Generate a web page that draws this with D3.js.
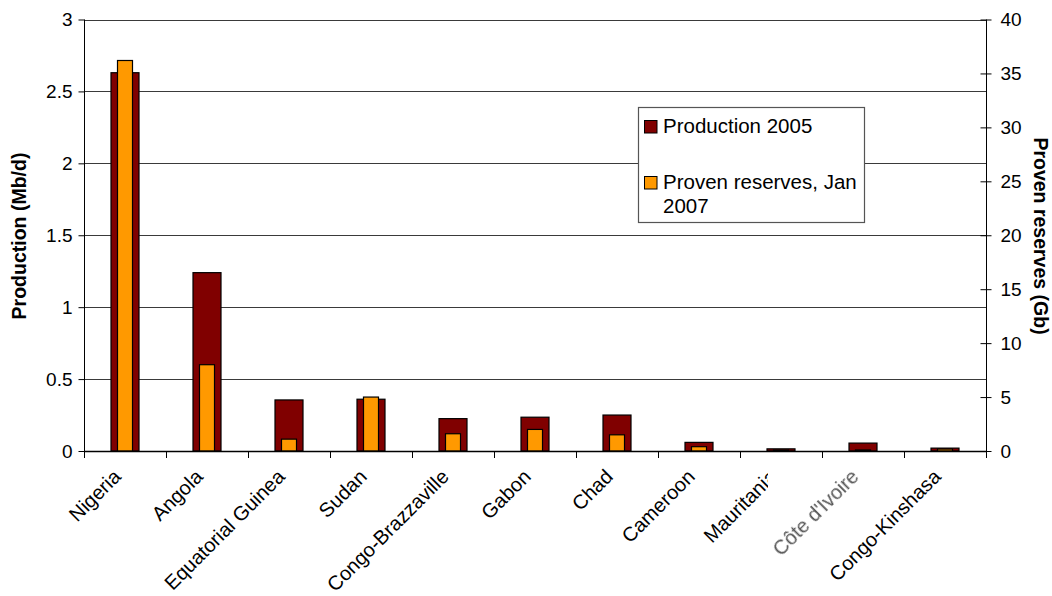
<!DOCTYPE html>
<html>
<head>
<meta charset="utf-8">
<script src="https://cdn.jsdelivr.net/npm/d3@7"></script>
<style>
  html, body { margin: 0; padding: 0; background: #fff; }
  svg { display: block; font-family: Arial, "Liberation Sans", sans-serif; }
</style>
</head>
<body>
<svg id="chart" width="1052" height="596"></svg>
<script>
// Oil producers of Africa: 2005 production and proven reserves (Jan 2007)
const countries = ["Nigeria", "Angola", "Equatorial Guinea", "Sudan", "Congo-Brazzaville",
  "Gabon", "Chad", "Cameroon", "Mauritania", "Côte d'Ivoire", "Congo-Kinshasa"];
const production2005 = [2.63, 1.24, 0.355, 0.36, 0.225, 0.235, 0.25, 0.06, 0.015, 0.055, 0.02]; // Mb/d
const reservesJan2007 = [36.2, 8.0, 1.1, 5.0, 1.6, 2.0, 1.5, 0.4, 0.1, 0.1, 0.18];              // Gb
const leftTicks = [0, 0.5, 1, 1.5, 2, 2.5, 3];
const rightTicks = [0, 5, 10, 15, 20, 25, 30, 35, 40];
const legendLabels = ["Production 2005", ["Proven reserves, Jan", "2007"]];

const colProd = "#800000", colRes = "#ff9900";
const svg = d3.select("#chart");
const L = 84, R = 986, T = 19.5, B = 451;

const x = d3.scaleBand().domain(countries).range([L, R]);
const yL = d3.scaleLinear().domain([0, 3]).range([B, T]);
const yR = d3.scaleLinear().domain([0, 40]).range([B, T]);

// horizontal gridlines at the left-axis ticks
svg.append("g").selectAll("line").data(leftTicks.slice(1)).join("line")
  .attr("x1", L).attr("x2", R)
  .attr("y1", d => Math.round(yL(d)) + 0.5).attr("y2", d => Math.round(yL(d)) + 0.5)
  .attr("stroke", "#3a3a3a").attr("stroke-width", 1);

// bars
const bars = svg.append("g");
bars.selectAll("rect.prod").data(countries).join("rect").attr("class", "prod")
  .attr("x", d => x(d) + x.bandwidth() / 2 - 14)
  .attr("width", 28)
  .attr("y", (d, i) => yL(production2005[i]))
  .attr("height", (d, i) => B - yL(production2005[i]))
  .attr("fill", colProd).attr("stroke", "#000").attr("stroke-width", 1.2);
bars.selectAll("rect.res").data(countries).join("rect").attr("class", "res")
  .attr("x", d => x(d) + x.bandwidth() / 2 - 7.5)
  .attr("width", 15)
  .attr("y", (d, i) => yR(reservesJan2007[i]))
  .attr("height", (d, i) => B - yR(reservesJan2007[i]))
  .attr("fill", colRes).attr("stroke", "#000").attr("stroke-width", 1.2);

// left axis
const axL = svg.append("g").attr("transform", `translate(${L + 0.5},0)`)
  .call(d3.axisLeft(yL).tickValues(leftTicks).tickSize(6).tickPadding(6).tickFormat(d => d));
axL.select(".domain").attr("stroke", "#000").attr("d", `M0,${T}V${B}`);
axL.selectAll(".tick line").attr("stroke", "#000");
axL.selectAll(".tick text").attr("font-size", 19).attr("fill", "#000")
  .attr("font-family", "Arial, 'Liberation Sans', sans-serif");

// right axis: ticks cross the axis line
const axR = svg.append("g").attr("transform", `translate(${R + 0.5},0)`)
  .call(d3.axisRight(yR).tickValues(rightTicks).tickSize(5).tickPadding(9).tickFormat(d => d));
axR.select(".domain").attr("stroke", "#000").attr("d", `M0,${T}V${B + 6}`);
axR.selectAll(".tick line").attr("stroke", "#000").attr("x1", -6).attr("x2", 5);
axR.selectAll(".tick text").attr("font-size", 19).attr("fill", "#000")
  .attr("font-family", "Arial, 'Liberation Sans', sans-serif");

// bottom axis with ticks on category boundaries
const axB = svg.append("g");
axB.append("line").attr("x1", L).attr("x2", R + 1).attr("y1", B + 0.5).attr("y2", B + 0.5)
  .attr("stroke", "#000").attr("stroke-width", 1.3);
const bounds = countries.map(c => x(c)).concat([R]);
axB.selectAll("line.tk").data(bounds).join("line").attr("class", "tk")
  .attr("x1", d => Math.round(d) + 0.5).attr("x2", d => Math.round(d) + 0.5)
  .attr("y1", B).attr("y2", B + 7).attr("stroke", "#000");

// category labels, rotated
const defs = svg.append("defs");
defs.append("clipPath").attr("id", "clipMaur").append("rect")
  .attr("x", 0).attr("y", 0).attr("width", 768).attr("height", 596);
defs.append("filter").attr("id", "soft").append("feGaussianBlur").attr("stdDeviation", 0.6);

svg.append("g").selectAll("g").data(countries).join("g")
  .attr("clip-path", d => d === "Mauritania" ? "url(#clipMaur)" : null)
  .append("text")
  .attr("transform", d => `translate(${x(d) + x.bandwidth() / 2 - 3},${B + 27}) rotate(-45)`)
  .attr("text-anchor", "end")
  .attr("font-size", 20)
  .attr("fill", d => d === "Côte d'Ivoire" ? "#555" : "#000")
  .attr("filter", d => d === "Côte d'Ivoire" ? "url(#soft)" : null)
  .text(d => d);

// axis titles
svg.append("text").attr("transform", "translate(26,236) rotate(-90)")
  .attr("text-anchor", "middle").attr("font-size", 19.5).attr("font-weight", "bold")
  .text("Production (Mb/d)");
svg.append("text").attr("transform", "translate(1034,236) rotate(90)")
  .attr("text-anchor", "middle").attr("font-size", 19.5).attr("font-weight", "bold")
  .text("Proven reserves (Gb)");

// legend
const lg = svg.append("g");
lg.append("rect").attr("x", 638.5).attr("y", 107.5).attr("width", 226).attr("height", 115)
  .attr("fill", "#fff").attr("stroke", "#555").attr("stroke-width", 1.2);
const items = [{ c: colProd, y: 120 }, { c: colRes, y: 176 }];
lg.selectAll("rect.sw").data(items).join("rect").attr("class", "sw")
  .attr("x", 644.5).attr("y", d => d.y + 0.5).attr("width", 12.5).attr("height", 12.5)
  .attr("fill", d => d.c).attr("stroke", "#000").attr("stroke-width", 1);
lg.append("text").attr("x", 663).attr("y", 133).attr("font-size", 20.5).text(legendLabels[0]);
const t2 = lg.append("text").attr("x", 663).attr("y", 189).attr("font-size", 20.5);
t2.append("tspan").attr("x", 663).text(legendLabels[1][0]);
t2.append("tspan").attr("x", 663).attr("dy", 24).text(legendLabels[1][1]);
</script>
</body>
</html>
